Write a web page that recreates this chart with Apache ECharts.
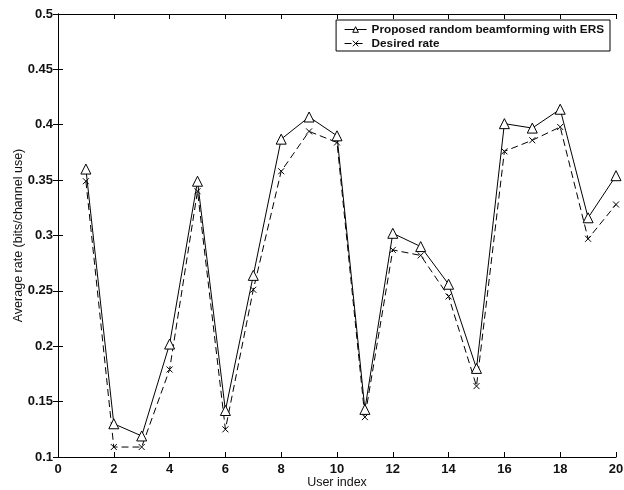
<!DOCTYPE html>
<html>
<head>
<meta charset="utf-8">
<script src="https://cdn.jsdelivr.net/npm/echarts@6/dist/echarts.min.js"></script>
<style>
  html, body { margin: 0; padding: 0; background: #fff; }
  #chart { width: 624px; height: 490px; }
</style>
</head>
<body>
<div id="chart"></div>
<script>
// User indices and the average rate of each user
const users = [1, 2, 3, 4, 5, 6, 7, 8, 9, 10, 11, 12, 13, 14, 15, 16, 17, 18, 19, 20];
const proposedRate = [0.360, 0.130, 0.119, 0.202, 0.349, 0.142, 0.264, 0.387, 0.407, 0.390,
                      0.143, 0.302, 0.290, 0.256, 0.180, 0.401, 0.397, 0.414, 0.316, 0.354];
const desiredRate = [0.349, 0.109, 0.109, 0.179, 0.340, 0.125, 0.251, 0.358, 0.394, 0.384,
                     0.136, 0.287, 0.282, 0.245, 0.164, 0.376, 0.386, 0.398, 0.297, 0.328];
const seriesNames = ['Proposed random beamforming with ERS', 'Desired rate'];
const xLabel = 'User index';
const yLabel = 'Average rate (bits/channel use)';

const font = 'Liberation Sans, Arial, Helvetica, sans-serif';
const ink = '#111';
const crossPath = 'path://M0,0L10,10M10,0L0,10';

const chart = echarts.init(document.getElementById('chart'), null, { renderer: 'canvas' });

const frameAxis = {
  axisLine: { show: true, lineStyle: { color: '#000', width: 1 } },
  axisTick: { show: true, inside: true, length: 5, lineStyle: { color: '#000' } },
  splitLine: { show: false }
};

chart.setOption({
  backgroundColor: '#fff',
  animation: false,
  grid: { left: 58, right: 8, top: 14, bottom: 33, containLabel: false, outerBoundsMode: 'none' },
  legend: {
    right: 14,
    top: 20,
    orient: 'vertical',
    itemGap: 1,
    itemWidth: 22,
    itemHeight: 7,
    padding: [3, 6, 1, 8],
    borderColor: '#000',
    borderWidth: 1,
    backgroundColor: '#fff',
    lineStyle: { width: 1 },
    itemStyle: { borderWidth: 1 },
    textStyle: { fontFamily: font, fontSize: 11.75, fontWeight: 'bold', color: ink, lineHeight: 13 },
    data: seriesNames
  },
  xAxis: [
    Object.assign({
      type: 'value', min: 0, max: 20, interval: 2,
      name: xLabel, nameLocation: 'middle', nameGap: 19, nameMoveOverlap: false,
      nameTextStyle: { fontFamily: font, fontSize: 12.5, color: ink },
      axisLabel: { fontFamily: font, fontSize: 13, fontWeight: 'bold', color: ink, margin: 6 }
    }, frameAxis),
    Object.assign({
      type: 'value', min: 0, max: 20, interval: 2, position: 'top',
      axisLabel: { show: false }
    }, frameAxis)
  ],
  yAxis: [
    Object.assign({
      type: 'value', min: 0.1, max: 0.5, interval: 0.05,
      name: yLabel, nameLocation: 'middle', nameGap: 33, nameMoveOverlap: false,
      nameTextStyle: { fontFamily: font, fontSize: 12.5, color: ink },
      axisLabel: {
        fontFamily: font, fontSize: 13, fontWeight: 'bold', color: ink, margin: 5,
        formatter: v => String(parseFloat(v.toFixed(2)))
      }
    }, frameAxis),
    Object.assign({
      type: 'value', min: 0.1, max: 0.5, interval: 0.05, position: 'right',
      axisLabel: { show: false }
    }, frameAxis)
  ],
  series: [
    {
      name: seriesNames[0],
      type: 'line',
      data: users.map((u, i) => [u, proposedRate[i]]),
      symbol: 'triangle',
      symbolSize: 10,
      showAllSymbol: true,
      lineStyle: { color: '#000', width: 1 },
      itemStyle: { color: '#fff', borderColor: '#000', borderWidth: 1 },
      z: 3
    },
    {
      name: seriesNames[1],
      type: 'line',
      data: users.map((u, i) => [u, desiredRate[i]]),
      symbol: crossPath,
      symbolSize: 6,
      showAllSymbol: true,
      lineStyle: { color: '#000', width: 1, type: [7, 4] },
      itemStyle: { color: 'none', borderColor: '#000', borderWidth: 1 },
      z: 2
    }
  ]
});
</script>
</body>
</html>
